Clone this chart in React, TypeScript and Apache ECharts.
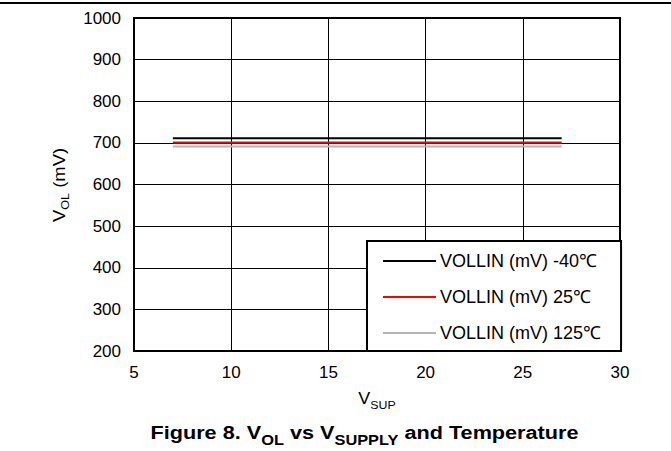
import React, { useEffect, useRef } from "react";
import * as echarts from "echarts";

const vSup = [7, 27];
const vol40 = [711, 711];
const vol25 = [701, 701];
const vol125 = [691, 691];
const seriesNames = ["VOLLIN (mV) -40℃", "VOLLIN (mV) 25℃", "VOLLIN (mV) 125℃"];
const seriesColors = ["#000000", "#ff0000", "#b4b4b4"];
const xTitle = ["V", "SUP"];
const yTitle = ["V", "OL", " (mV)"];
const caption = ["Figure 8. V", "OL", " vs V", "SUPPLY", " and Temperature"];

const FONT = "'Liberation Sans', Arial, sans-serif";

export default function App() {
  const ref = useRef<HTMLDivElement>(null);
  useEffect(() => {
    if (!ref.current) return;
    const chart = echarts.init(ref.current, undefined, { renderer: "svg" });
    const mk = (vals: number[]) => vSup.map((x, i) => [x, vals[i]]);
    const data = [mk(vol40), mk(vol25), mk(vol125)];
    const subRich = (main: number, sub: number, lh: number, bold: boolean) => ({
      v: { fontSize: main, lineHeight: lh, fontFamily: FONT, fill: "#000", fontWeight: bold ? "bold" : "normal", verticalAlign: "middle" },
      s: { fontSize: sub, lineHeight: sub, fontFamily: FONT, fill: "#000", fontWeight: bold ? "bold" : "normal", verticalAlign: "bottom" },
    });
    chart.setOption({
      animation: false,
      backgroundColor: "#ffffff",
      textStyle: { fontFamily: FONT, color: "#000" },
      grid: {
        left: 134,
        top: 18,
        right: 51,
        bottom: 100,
        show: true,
        borderColor: "#000",
        borderWidth: 2,
        containLabel: false,
      },
      xAxis: {
        type: "value",
        min: 5,
        max: 30,
        interval: 5,
        axisLine: { show: false },
        axisTick: { show: false },
        splitLine: { show: true, lineStyle: { color: "#000", width: 1 } },
        axisLabel: { fontSize: 17, color: "#000", fontFamily: FONT, margin: 13, formatter: (v: number) => String(v) },
      },
      yAxis: {
        type: "value",
        min: 200,
        max: 1000,
        interval: 100,
        axisLine: { show: false },
        axisTick: { show: false },
        splitLine: { show: true, lineStyle: { color: "#000", width: 1 } },
        axisLabel: { fontSize: 17, color: "#000", fontFamily: FONT, margin: 13, formatter: (v: number) => String(v) },
      },
      legend: {
        orient: "vertical",
        left: 367,
        top: 241,
        padding: [11, 20, 9, 16],
        icon: "rect",
        itemWidth: 53,
        itemHeight: 2,
        itemGap: 18,
        borderColor: "#000",
        borderWidth: 2,
        backgroundColor: "#fff",
        textStyle: { fontSize: 18, lineHeight: 18, color: "#000", fontFamily: FONT, padding: [0, 0, 0, -1] },
        data: seriesNames,
      },
      series: seriesNames.map((name, i) => ({
        name,
        type: "line",
        data: data[i],
        symbol: "none",
        showSymbol: false,
        color: seriesColors[i],
        itemStyle: { color: seriesColors[i] },
        lineStyle: { color: seriesColors[i], width: 2 },
      })),
      graphic: [
        {
          type: "line",
          shape: { x1: 0, y1: 3, x2: 671, y2: 3 },
          style: { stroke: "#000", lineWidth: 2 },
        },
        {
          type: "text",
          x: 377,
          y: 399,
          scaleX: 1.12,
          style: {
            text: `{v|${xTitle[0]}}{s|${xTitle[1]}}`,
            align: "center",
            verticalAlign: "middle",
            rich: subRich(16, 11, 22, false),
          },
        },
        {
          type: "text",
          x: 59.5,
          y: 185,
          rotation: Math.PI / 2,
          scaleX: 1.15,
          style: {
            text: `{v|${yTitle[0]}}{s|${yTitle[1]}}{v|${yTitle[2]}}`,
            align: "center",
            verticalAlign: "middle",
            rich: subRich(16, 11, 22, false),
          },
        },
        {
          type: "text",
          x: 364.5,
          y: 433,
          scaleX: 1.17,
          style: {
            text: `{v|${caption[0]}}{s|${caption[1]}}{v|${caption[2]}}{s|${caption[3]}}{v|${caption[4]}}`,
            align: "center",
            verticalAlign: "middle",
            rich: subRich(18.5, 14, 28, true),
          },
        },
      ],
    });
    return () => chart.dispose();
  }, []);
  return (
    <div
      ref={ref}
      style={{ position: "fixed", left: 0, top: 0, width: 671, height: 451, background: "#fff" }}
    />
  );
}
